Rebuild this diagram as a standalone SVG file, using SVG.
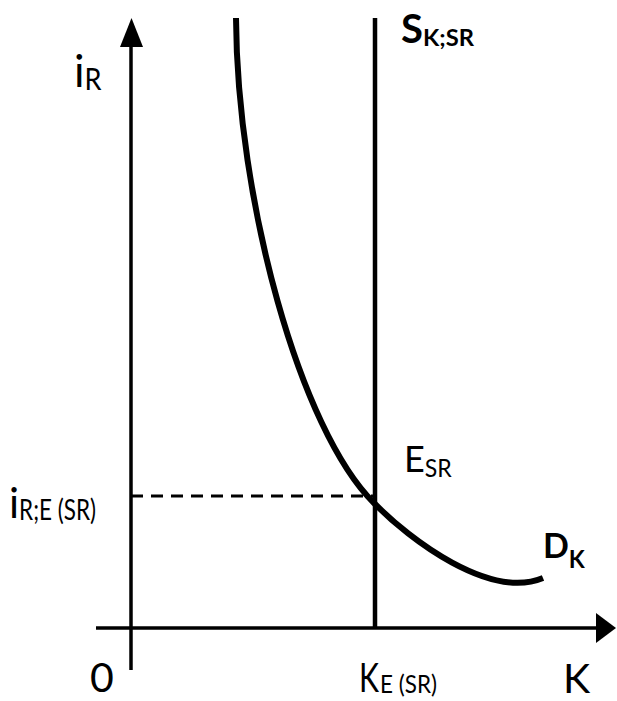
<svg xmlns="http://www.w3.org/2000/svg" width="617" height="701" viewBox="0 0 617 701">
<style>
.ax{stroke:#000;stroke-width:3.5;fill:none}
.ln{stroke:#000;stroke-width:4.5;fill:none}
.cv{stroke:#000;stroke-width:6;fill:none;stroke-linecap:butt}
.dash{stroke:#000;stroke-width:3;fill:none;stroke-dasharray:12 8}
.t{font-family:Lato,"Open Sans",sans-serif;fill:#000}
.b{font-weight:bold}
</style>
<rect width="617" height="701" fill="#fff"/>
<g id="connectors">
<line class="ax" x1="131" y1="45" x2="131" y2="670"/>
<polygon points="131.5,18 120,47 143,47" fill="#000"/>
<line class="ax" x1="96" y1="628" x2="598" y2="628"/>
<polygon points="616,628 596,613 596,643" fill="#000"/>
<line class="dash" x1="131" y1="496" x2="374" y2="496"/>
</g>
<g id="supply">
<line class="ln" x1="375" y1="18" x2="375" y2="628"/>
</g>
<g id="demand">
<path class="cv" d="M236,18 C237,200 300,430 374,503 C410,540 490,600 543,578"/>
</g>
<g id="labels">
<text class="t" x="74" y="87" font-size="44">i<tspan font-size="30" dy="3" textLength="17" lengthAdjust="spacingAndGlyphs">R</tspan></text>
<text class="t b" x="401" y="43" font-size="40">S<tspan font-size="22" dy="3" textLength="51" lengthAdjust="spacingAndGlyphs">K;SR</tspan></text>
<text class="t" x="404" y="472" font-size="36">E<tspan font-size="25" dy="5" textLength="27" lengthAdjust="spacingAndGlyphs">SR</tspan></text>
<text class="t b" x="543" y="558" font-size="34">D<tspan font-size="25" dy="10" textLength="16" lengthAdjust="spacingAndGlyphs">K</tspan></text>
<text class="t" x="9" y="518" font-size="42">i<tspan font-size="29" dy="2" textLength="77" lengthAdjust="spacingAndGlyphs">R;E (SR)</tspan></text>
<text class="t" x="90" y="692" font-size="41">0</text>
<text class="t" x="359" y="692" font-size="41"><tspan textLength="20" lengthAdjust="spacingAndGlyphs">K</tspan><tspan font-size="25" dx="1" dy="1" textLength="57" lengthAdjust="spacingAndGlyphs">E (SR)</tspan></text>
<text class="t" x="563" y="693" font-size="41">K</text>
</g>
</svg>
